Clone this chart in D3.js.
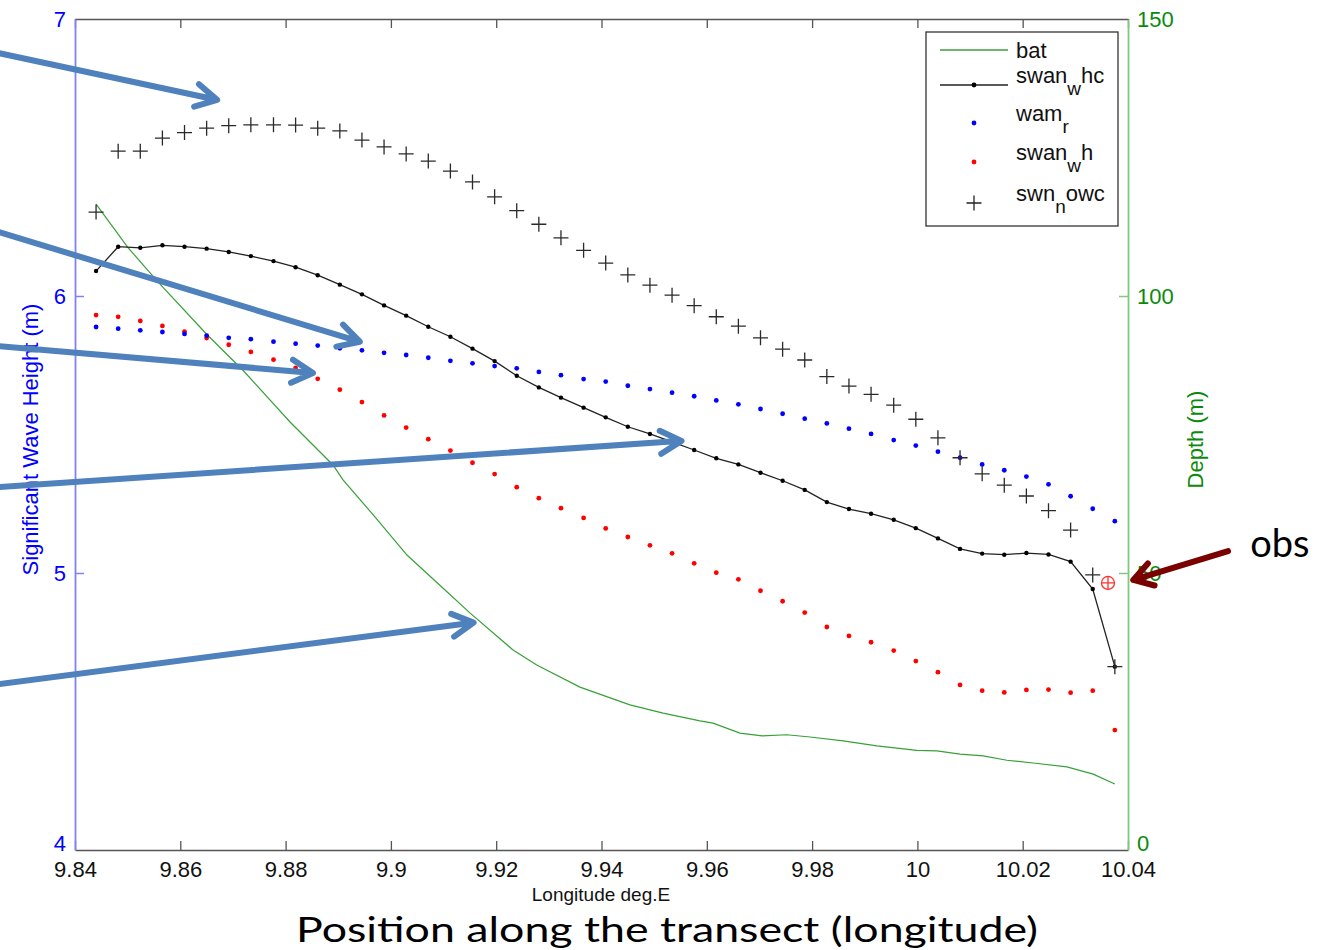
<!DOCTYPE html>
<html>
<head>
<meta charset="utf-8">
<script src="https://cdn.jsdelivr.net/npm/d3@7"></script>
<style>
  body { margin: 0; background: #fff; }
  svg { display: block; font-family: "Liberation Sans", Arial, sans-serif; }
</style>
</head>
<body>
<svg id="chart"></svg>
<script>
// model output positions along the transect (deg E)
const lon = [9.8440, 9.8482, 9.8524, 9.8566, 9.8608, 9.8650, 9.8692, 9.8734, 9.8777, 9.8819,
             9.8861, 9.8903, 9.8945, 9.8987, 9.9029, 9.9071, 9.9113, 9.9155, 9.9197, 9.9239,
             9.9281, 9.9323, 9.9366, 9.9408, 9.9450, 9.9492, 9.9534, 9.9576, 9.9618, 9.9660,
             9.9702, 9.9744, 9.9786, 9.9828, 9.9870, 9.9912, 9.9955, 9.9997, 10.0039, 10.0081,
             10.0123, 10.0165, 10.0207, 10.0249, 10.0291, 10.0333, 10.0375];

const swanWhc = [6.090, 6.178, 6.174, 6.183, 6.178, 6.171, 6.159, 6.144, 6.126, 6.104,
                 6.075, 6.041, 6.006, 5.966, 5.929, 5.889, 5.853, 5.810, 5.765, 5.712,
                 5.670, 5.633, 5.597, 5.562, 5.528, 5.502, 5.473, 5.444, 5.414, 5.392,
                 5.362, 5.333, 5.300, 5.256, 5.231, 5.214, 5.192, 5.162, 5.125, 5.087,
                 5.070, 5.066, 5.072, 5.067, 5.041, 4.942, 4.662];

const wamR = [5.888, 5.882, 5.876, 5.870, 5.863, 5.857, 5.849, 5.844, 5.835, 5.828,
              5.821, 5.811, 5.804, 5.795, 5.787, 5.777, 5.766, 5.757, 5.747, 5.739,
              5.726, 5.714, 5.700, 5.691, 5.676, 5.664, 5.651, 5.638, 5.623, 5.609,
              5.592, 5.575, 5.557, 5.540, 5.521, 5.502, 5.480, 5.460, 5.438, 5.416,
              5.392, 5.371, 5.348, 5.320, 5.277, 5.232, 5.187];

const swanWh = [5.931, 5.925, 5.910, 5.892, 5.871, 5.848, 5.824, 5.798, 5.770, 5.740,
                5.701, 5.662, 5.617, 5.569, 5.525, 5.483, 5.442, 5.398, 5.357, 5.310,
                5.270, 5.234, 5.199, 5.161, 5.130, 5.100, 5.071, 5.035, 5.001, 4.977,
                4.936, 4.898, 4.857, 4.805, 4.773, 4.750, 4.720, 4.682, 4.642, 4.596,
                4.575, 4.569, 4.578, 4.579, 4.568, 4.575, 4.433];

const swnNowc = [6.303, 6.523, 6.523, 6.570, 6.590, 6.606, 6.615, 6.618, 6.618, 6.617,
                 6.606, 6.596, 6.563, 6.538, 6.513, 6.487, 6.451, 6.412, 6.358, 6.308,
                 6.259, 6.210, 6.165, 6.119, 6.076, 6.039, 6.003, 5.965, 5.925, 5.891,
                 5.849, 5.808, 5.769, 5.709, 5.675, 5.645, 5.606, 5.555, 5.488, 5.416,
                 5.358, 5.317, 5.278, 5.225, 5.155, 4.993, 4.662];

// bathymetry (right axis)
const batLon = [9.8440, 9.8501, 9.8558, 9.8651, 9.8719, 9.8808, 9.8890, 9.8909, 9.8970, 9.9031,
                9.9093, 9.9150, 9.9232, 9.9277, 9.9359, 9.9454, 9.9517, 9.9587, 9.9612, 9.9663,
                9.9705, 9.9752, 9.9796, 9.9859, 9.9923, 9.9999, 10.0037, 10.0081, 10.0125, 10.0170,
                10.0220, 10.0284, 10.0334, 10.0375];
const batDepth = [116.6, 108.7, 102.5, 93.0, 86.6, 77.3, 69.5, 66.8, 60.1, 53.2,
                  47.8, 42.8, 36.1, 33.4, 29.4, 26.2, 24.7, 23.3, 22.9, 21.1,
                  20.6, 20.8, 20.4, 19.7, 18.8, 18.0, 17.9, 17.3, 17.0, 16.2,
                  15.7, 15.0, 13.7, 11.9];

// observation
const obsLon = [10.0362];
const obsHs = [4.964];

// ticks
const xTicks = [9.84, 9.86, 9.88, 9.9, 9.92, 9.94, 9.96, 9.98, 10, 10.02, 10.04];
const xTickLabels = ['9.84', '9.86', '9.88', '9.9', '9.92', '9.94', '9.96', '9.98', '10', '10.02', '10.04'];
const hsTicks = [4, 5, 6, 7];
const depthTicks = [0, 50, 100, 150];

// annotation arrows (blue) in data units
const arrowFromLon = [9.8255, 9.8255, 9.8255, 9.8255, 9.8255];
const arrowFromHs = [6.877, 6.231, 5.819, 5.310, 4.599];
const arrowToLon = [9.8670, 9.8941, 9.8852, 9.9552, 9.9157];
const arrowToHs = [6.708, 5.835, 5.722, 5.477, 4.821];
// obs arrow + label
const obsArrowFrom = [10.0590, 5.079];
const obsArrowTo = [10.0410, 4.975];
const obsLabelAt = [10.0632, 5.058];

const W = 1333, H = 950;
const margin = {top: 19, right: 205, bottom: 100, left: 75};

const svg = d3.select('#chart').attr('width', W).attr('height', H);

const x = d3.scaleLinear().domain([9.84, 10.04]).range([margin.left, W - margin.right]);
const yL = d3.scaleLinear().domain([4, 7]).range([H - margin.bottom, margin.top]);
const yR = d3.scaleLinear().domain([0, 150]).range([H - margin.bottom, margin.top]);

const plot = svg.append('g');

// bathymetry line
const batData = batLon.map((d, i) => ({lon: d, v: batDepth[i]}));
plot.append('path')
  .datum(batData)
  .attr('fill', 'none')
  .attr('stroke', '#38a038')
  .attr('stroke-width', 1.2)
  .attr('d', d3.line().x(d => x(d.lon)).y(d => yR(d.v)));

// red dots
plot.selectAll('.wh').data(swanWh).enter().append('circle')
  .attr('cx', (d, i) => x(lon[i])).attr('cy', d => yL(d))
  .attr('r', 2.4).attr('fill', '#ff0000');

// blue dots
plot.selectAll('.wam').data(wamR).enter().append('circle')
  .attr('cx', (d, i) => x(lon[i])).attr('cy', d => yL(d))
  .attr('r', 2.4).attr('fill', '#0000ff');

// black line with dots
plot.append('path')
  .datum(swanWhc)
  .attr('fill', 'none')
  .attr('stroke', '#222')
  .attr('stroke-width', 1.3)
  .attr('d', d3.line().x((d, i) => x(lon[i])).y(d => yL(d)));
plot.selectAll('.whc').data(swanWhc).enter().append('circle')
  .attr('cx', (d, i) => x(lon[i])).attr('cy', d => yL(d))
  .attr('r', 2.2).attr('fill', '#000');

// plus markers
function plusPath(s) {
  return `M${-s},0H${s}M0,${-s}V${s}`;
}
plot.selectAll('.nowc').data(swnNowc).enter().append('path')
  .attr('transform', (d, i) => `translate(${x(lon[i])},${yL(d)})`)
  .attr('d', plusPath(7.5))
  .attr('stroke', '#2a2a2a').attr('stroke-width', 1.3).attr('fill', 'none');

// observation marker
obsLon.forEach((d, i) => {
  const g = plot.append('g').attr('transform', `translate(${x(d)},${yL(obsHs[i])})`);
  g.append('circle').attr('r', 6.5).attr('fill', 'none').attr('stroke', '#ff3030').attr('stroke-width', 1.3);
  g.append('path').attr('d', plusPath(6.5)).attr('stroke', '#ff3030').attr('stroke-width', 1.3);
});

// axes
const fs = 22;
const xAxis = svg.append('g')
  .attr('transform', `translate(0,${H - margin.bottom})`)
  .call(d3.axisBottom(x).tickValues(xTicks).tickFormat((d, i) => xTickLabels[i])
        .tickSizeInner(-9).tickSizeOuter(0).tickPadding(11));
xAxis.select('.domain').attr('stroke', '#555').attr('stroke-width', 1.5);
xAxis.selectAll('.tick line').attr('stroke', '#555').attr('stroke-width', 1.3);
xAxis.selectAll('.tick text').attr('font-size', fs).attr('fill', '#111')
  .attr('font-family', '"Liberation Sans", Arial, sans-serif');

const topAxis = svg.append('g')
  .attr('transform', `translate(0,${margin.top})`)
  .call(d3.axisTop(x).tickValues(xTicks).tickFormat('').tickSizeInner(-9).tickSizeOuter(0));
topAxis.select('.domain').attr('stroke', '#555').attr('stroke-width', 1.5);
topAxis.selectAll('.tick line').attr('stroke', '#555').attr('stroke-width', 1.3);

const leftAxis = svg.append('g')
  .attr('transform', `translate(${margin.left},0)`)
  .call(d3.axisLeft(yL).tickValues(hsTicks).tickFormat(d3.format('d'))
        .tickSizeInner(-9).tickSizeOuter(0).tickPadding(9));
leftAxis.select('.domain').attr('stroke', '#8080ff').attr('stroke-width', 1.8);
leftAxis.selectAll('.tick line').attr('stroke', '#8080ff').attr('stroke-width', 1.5)
  .attr('opacity', d => (d === 4 || d === 7) ? 0 : 1);
leftAxis.selectAll('.tick text').attr('font-size', fs).attr('fill', '#0000ff')
  .attr('font-family', '"Liberation Sans", Arial, sans-serif')
  .attr('dy', d => d === 4 ? '0.03em' : '0.32em');

const rightAxis = svg.append('g')
  .attr('transform', `translate(${W - margin.right},0)`)
  .call(d3.axisRight(yR).tickValues(depthTicks).tickFormat(d3.format('d'))
        .tickSizeInner(-9).tickSizeOuter(0).tickPadding(9));
rightAxis.select('.domain').attr('stroke', '#80c880').attr('stroke-width', 1.8);
rightAxis.selectAll('.tick line').attr('stroke', '#80c880').attr('stroke-width', 1.5)
  .attr('opacity', d => (d === 0 || d === 150) ? 0 : 1);
rightAxis.selectAll('.tick text').attr('font-size', fs).attr('fill', '#0a8a0a')
  .attr('font-family', '"Liberation Sans", Arial, sans-serif')
  .attr('dy', d => d === 0 ? '0.03em' : '0.32em');

// axis titles
svg.append('text')
  .attr('transform', `translate(38,${(yL(4) + yL(7)) / 2 + 5}) rotate(-90)`)
  .attr('text-anchor', 'middle').attr('font-size', 22).attr('fill', '#0000ff')
  .text('Significant Wave Height (m)');
svg.append('text')
  .attr('transform', `translate(1203,${(yL(4) + yL(7)) / 2 + 5}) rotate(-90)`)
  .attr('text-anchor', 'middle').attr('font-size', 22).attr('fill', '#0a8a0a')
  .text('Depth (m)');
svg.append('text')
  .attr('x', 601).attr('y', 901)
  .attr('text-anchor', 'middle').attr('font-size', 19).attr('fill', '#111')
  .text('Longitude deg.E');

svg.append('text')
  .attr('x', 667).attr('y', 942)
  .attr('text-anchor', 'middle')
  .attr('font-family', 'Lato, "Open Sans", sans-serif')
  .attr('font-size', 34).attr('fill', '#000')
  .attr('textLength', 742).attr('lengthAdjust', 'spacingAndGlyphs')
  .text('Position along the transect (longitude)');

// legend
const legend = svg.append('g').attr('transform', 'translate(926,32)');
legend.append('rect').attr('width', 192).attr('height', 194)
  .attr('fill', '#fff').attr('stroke', '#333').attr('stroke-width', 1.3);

const legendItems = [
  {name: 'bat', sub: null, rest: '', type: 'line', color: '#38a038', y: 18},
  {name: 'swan', sub: 'w', rest: 'hc', type: 'linedot', color: '#222', y: 53},
  {name: 'wam', sub: 'r', rest: '', type: 'dot', color: '#0000ff', y: 91},
  {name: 'swan', sub: 'w', rest: 'h', type: 'dot', color: '#ff0000', y: 130},
  {name: 'swn', sub: 'n', rest: 'owc', type: 'plus', color: '#222', y: 171}
];
legendItems.forEach(it => {
  const g = legend.append('g').attr('transform', `translate(0,${it.y})`);
  if (it.type === 'line' || it.type === 'linedot') {
    g.append('line').attr('x1', 14).attr('x2', 82).attr('stroke', it.color).attr('stroke-width', 1.3);
  }
  if (it.type === 'linedot' || it.type === 'dot') {
    g.append('circle').attr('cx', 48).attr('r', 2.4).attr('fill', it.type === 'linedot' ? '#000' : it.color);
  }
  if (it.type === 'plus') {
    g.append('path').attr('transform', 'translate(48,0)').attr('d', plusPath(7.5))
      .attr('stroke', it.color).attr('stroke-width', 1.3);
  }
  const t = g.append('text').attr('x', 90).attr('y', it.type === 'line' ? 8 : -2)
    .attr('font-size', 22).attr('fill', '#111');
  t.append('tspan').text(it.name);
  if (it.sub) {
    t.append('tspan').attr('dy', 12).attr('font-size', 19).text(it.sub);
    t.append('tspan').attr('dy', -12).text(it.rest);
  }
});

// annotation arrows
function arrow(x1, y1, x2, y2, color, width, headLen, headAng) {
  const a = Math.atan2(y2 - y1, x2 - x1);
  const p1 = [x2 - headLen * Math.cos(a - headAng), y2 - headLen * Math.sin(a - headAng)];
  const p2 = [x2 - headLen * Math.cos(a + headAng), y2 - headLen * Math.sin(a + headAng)];
  const back = 3;
  svg.append('path')
    .attr('d', `M${x1},${y1}L${x2 - back * Math.cos(a)},${y2 - back * Math.sin(a)}` +
               `M${p1[0]},${p1[1]}L${x2},${y2}L${p2[0]},${p2[1]}`)
    .attr('fill', 'none').attr('stroke', color).attr('stroke-width', width)
    .attr('stroke-linecap', 'round').attr('stroke-linejoin', 'round');
}
arrowFromLon.forEach((d, i) => {
  arrow(x(d), yL(arrowFromHs[i]), x(arrowToLon[i]), yL(arrowToHs[i]), '#4f81bd', 6, 24, 0.5);
});
arrow(x(obsArrowFrom[0]), yL(obsArrowFrom[1]), x(obsArrowTo[0]), yL(obsArrowTo[1]), '#7b0000', 6, 22, 0.55);

svg.append('text')
  .attr('x', x(obsLabelAt[0])).attr('y', yL(obsLabelAt[1]))
  .attr('font-family', 'Lato, "Open Sans", sans-serif')
  .attr('font-size', 38).attr('fill', '#000')
  .text('obs');
</script>
</body>
</html>
